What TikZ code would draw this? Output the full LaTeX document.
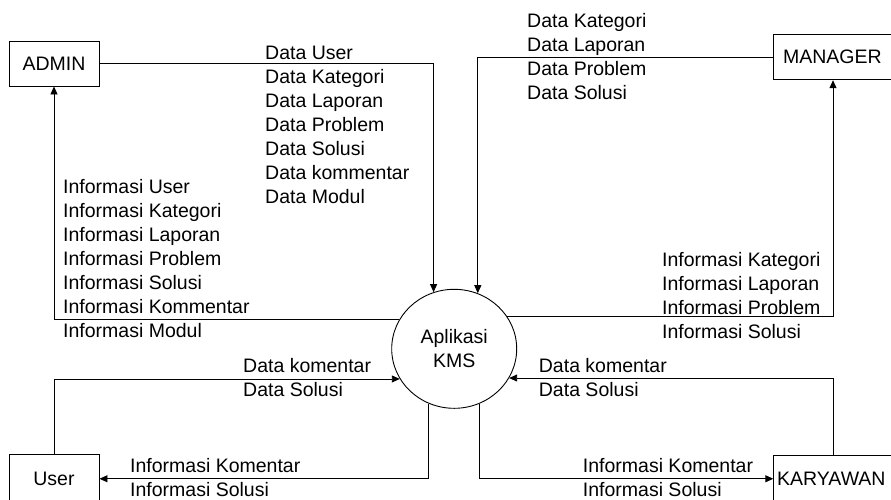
\documentclass[tikz,border=0pt]{standalone}
\usepackage{fontspec}
\setmainfont{Liberation Sans}
\usetikzlibrary{shapes.geometric,arrows.meta}

\newcommand{\labelfont}{\fontsize{19.5}{24}\selectfont}
\newcommand{\lines}[1]{\begin{tabular}[t]{@{}l@{}}#1\end{tabular}}

\tikzset{
  entity/.style={draw, line width=0.9pt, rectangle, inner ysep=0pt, font=\labelfont},
  process/.style={draw, ellipse, line width=0.9pt, inner sep=0pt,
    minimum width=125pt, minimum height=119pt, align=center, font=\labelfont},
  flow/.style={line width=0.9pt, -{Triangle[length=8pt,width=7pt]}},
  flowlabel/.style={anchor=base west, inner sep=0pt, font=\labelfont},
}

\begin{document}
\begin{tikzpicture}[x=1pt, y=-1pt]
  \useasboundingbox (0,0) rectangle (891,499);
  \fill[white] (0,0) rectangle (891,499);
  \clip (0,0) rectangle (891,499);

  % external entities
  \node[entity, minimum width=90pt, minimum height=45pt] (admin) at (54,63.5) {ADMIN};
  \node[entity, anchor=north west, minimum height=45.3pt, text width=130pt,
        inner xsep=9.7pt, align=left] (manager) at (773,34) {MANAGER};
  \node[entity, anchor=north, minimum width=90pt, minimum height=48pt] (user) at (54,454.3) {User};
  \node[entity, anchor=north west, minimum height=46.6pt, text width=130pt,
        inner xsep=3.4pt, align=left] (karyawan) at (773.3,455) {KARYAWAN};

  % central process
  \node[process] (kms) at (454.2,348.8) {Aplikasi\\KMS};

  % data flows
  \draw[flow] (admin.east) -| (kms.110.7);
  \draw[flow] (kms.152.2) -| (admin.south);
  \draw[flow] (manager.west) -| (kms.67.9);
  \draw[flow] (kms.31.4) -| ([xshift=60pt]manager.south west);
  \draw[flow] (user.north) |- (kms.209.6);
  \draw[flow] (kms.245.1) |- (user.east);
  \draw[flow] ([xshift=60pt]karyawan.north west) |- (kms.332.1);
  \draw[flow] (kms.295.5) |- (karyawan.west);

  % flow labels
  \node[flowlabel] (lAdminData) at (265,59.5) {\lines{Data User\\Data Kategori\\Data Laporan\\Data Problem\\Data Solusi\\Data kommentar\\Data Modul}};
  \node[flowlabel] (lAdminInfo) at (63,193.7) {\lines{Informasi User\\Informasi Kategori\\Informasi Laporan\\Informasi Problem\\Informasi Solusi\\Informasi Kommentar\\Informasi Modul}};
  \node[flowlabel] (lManagerData) at (527,27.7) {\lines{Data Kategori\\Data Laporan\\Data Problem\\Data Solusi}};
  \node[flowlabel] (lManagerInfo) at (662,266.3) {\lines{Informasi Kategori\\Informasi Laporan\\Informasi Problem\\Informasi Solusi}};
  \node[flowlabel] (lUserData) at (243,372) {\lines{Data komentar\\Data Solusi}};
  \node[flowlabel] (lUserInfo) at (130,472) {\lines{Informasi Komentar\\Informasi Solusi}};
  \node[flowlabel] (lKaryData) at (538.7,372.5) {\lines{Data komentar\\Data Solusi}};
  \node[flowlabel] (lKaryInfo) at (582.7,472) {\lines{Informasi Komentar\\Informasi Solusi}};
\end{tikzpicture}
\end{document}
